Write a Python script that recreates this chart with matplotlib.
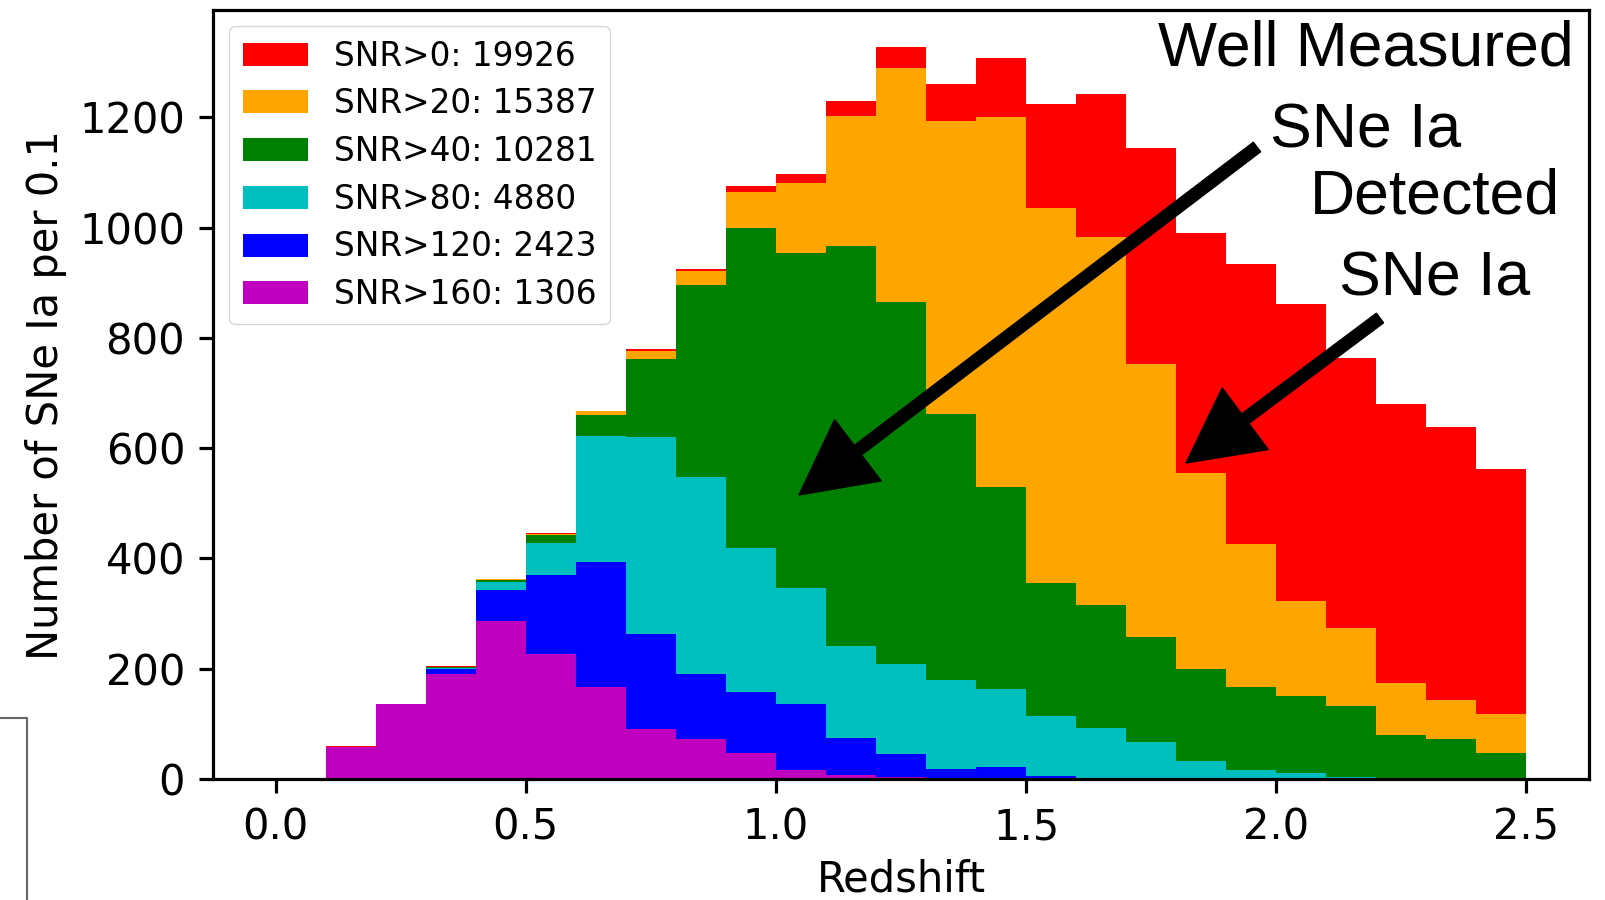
import matplotlib.pyplot as plt
import numpy as np
from matplotlib.patches import FancyArrow
from matplotlib.lines import Line2D
from matplotlib.transforms import IdentityTransform

# Tepi bin redshift (lebar 0.1), bin pertama 0.0-0.1 kosong
z_edges = np.round(np.linspace(0.0, 2.5, 26), 2)

# Jumlah SNe Ia per bin untuk tiap ambang SNR
snr0 = [0, 59, 136, 204, 362, 446, 668, 780, 925, 1076, 1097, 1230, 1328,
        1260, 1308, 1224, 1242, 1144, 990, 934, 861, 763, 680, 638, 563]
snr20 = [0, 58, 136, 203, 362, 445, 667, 776, 922, 1065, 1081, 1203, 1290,
         1194, 1200, 1036, 982, 753, 554, 426, 322, 273, 174, 144, 117]
snr40 = [0, 58, 136, 203, 361, 443, 660, 762, 895, 1000, 953, 966, 865,
         661, 529, 356, 316, 257, 200, 166, 150, 132, 79, 72, 47]
snr80 = [0, 58, 136, 202, 358, 428, 622, 621, 547, 419, 346, 242, 209,
         180, 164, 115, 93, 67, 32, 16, 10, 4, 1, 0, 0]
snr120 = [0, 58, 136, 199, 343, 369, 394, 263, 190, 157, 136, 74, 46,
          18, 22, 6, 1, 0, 0, 0, 0, 0, 0, 0, 0]
snr160 = [0, 58, 136, 190, 287, 227, 167, 90, 73, 48, 17, 8, 3,
          1, 0, 0, 0, 0, 0, 0, 0, 0, 0, 0, 0]

series = [snr0, snr20, snr40, snr80, snr120, snr160]
labels = ["SNR>0: 19926", "SNR>20: 15387", "SNR>40: 10281",
          "SNR>80: 4880", "SNR>120: 2423", "SNR>160: 1306"]
colors = ["r", "orange", "g", "c", "b", "m"]

W, H = 1605, 900
fig = plt.figure(figsize=(W / 100, H / 100), dpi=100)
ax = fig.add_axes([213 / W, 121 / H, 1376 / W, 769 / H])

# Histogram ditumpuk (tiap ambang digambar di atas yang sebelumnya)
z_mid = (z_edges[:-1] + z_edges[1:]) / 2
for counts, lab, col in zip(series, labels, colors):
    ax.hist(z_mid, bins=z_edges, weights=counts, color=col, label=lab)

ax.set_xlabel("Redshift", fontsize=30, labelpad=7)
ax.set_ylabel("Number of SNe Ia per 0.1", fontsize=30, labelpad=9)
ax.tick_params(labelsize=30, length=10, width=2.3, pad=10)
for sp in ax.spines.values():
    sp.set_linewidth(2.3)
ax.legend(loc="upper left", fontsize=23.6, labelspacing=0.45)

# Anotasi teks dan panah (koordinat piksel gambar, baseline baris terakhir)
fig.text(1366 / W, 1 - 147 / H, "Well Measured\nSNe Ia", ha="center",
         va="baseline", fontsize=45, family="Liberation Sans", linespacing=1.5)
fig.text(1435 / W, 1 - 295 / H, "Detected\nSNe Ia", ha="center",
         va="baseline", fontsize=45, family="Liberation Sans", linespacing=1.5)

for (x0, y0), (x1, y1) in [((1257, 147), (799, 495)), ((1380, 318), (1186, 463))]:
    arrow = FancyArrow(x0, H - y0, x1 - x0, y0 - y1, width=12, head_width=77,
                       head_length=74, length_includes_head=True, color="k",
                       transform=IdentityTransform())
    fig.add_artist(arrow)

# Sisa bingkai di pojok kiri bawah
fig.add_artist(Line2D([0, 27, 27], [H - 718, H - 718, 0], color="0.4", lw=1.5,
                      transform=IdentityTransform()))

fig.savefig("out.png", dpi=100)
